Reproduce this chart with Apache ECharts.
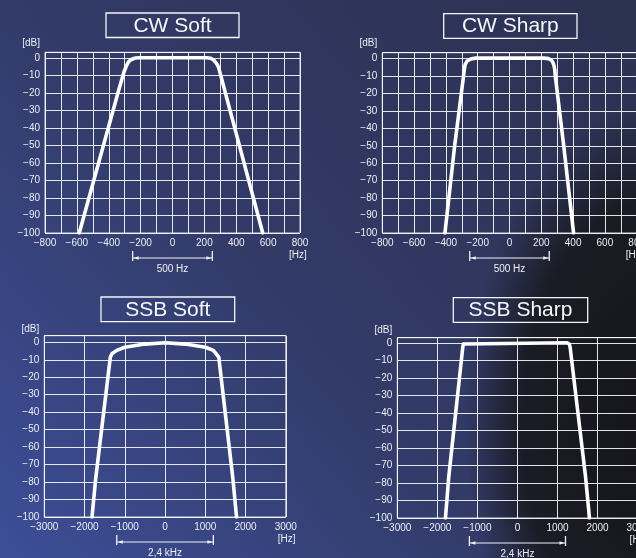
<!DOCTYPE html>
<html><head><meta charset="utf-8">
<script src="https://cdn.jsdelivr.net/npm/echarts@6/dist/echarts.min.js"></script>
<style>html,body{margin:0;padding:0;background:#2f3556}#c{width:636px;height:558px}</style>
</head><body><div id="c"></div>
<script>
// ---- data ----
const panelTitles = ['CW Soft', 'CW Sharp', 'SSB Soft', 'SSB Sharp'];
const levelTicks = [0, -10, -20, -30, -40, -50, -60, -70, -80, -90, -100];
const cwFreqTicks = [-800, -600, -400, -200, 0, 200, 400, 600, 800];
const ssbFreqTicks = [-3000, -2000, -1000, 0, 1000, 2000, 3000];

const cwSoftFreq  = [-585, -340, -305, -290, -275, -258, -235, -205, 214, 240, 258, 272, 283, 290, 566];
const cwSoftLevel = [-100, -19, -8, -4.5, -2, -0.7, 0.1, 0.3, 0.3, 0, -1, -2.5, -4, -5.5, -100];

const cwSharpFreq  = [-406, -345, -289, -284, -279, -268, -244, -213, 218, 245, 262, 272, 280, 285, 288, 341, 403];
const cwSharpLevel = [-100, -50, -10, -6, -3.4, -1.5, -0.2, 0.3, 0.3, 0, -0.8, -2, -4, -6.5, -10, -50, -100];

const ssbSoftFreq  = [-1815, -1723, -1360, -1320, -1200, -1000, -500, 0, 500, 1000, 1200, 1335, 1685, 1776];
const ssbSoftLevel = [-100, -78, -8.5, -6.5, -4.6, -2.8, -1, -0.2, -1, -2.8, -4.6, -8.5, -78, -100];

const ssbSharpFreq  = [-1798, -1713, -1365, -1350, -1320, 1240, 1295, 1315, 1698, 1798];
const ssbSharpLevel = [-100, -76, -2.5, -0.7, 0, 0, -0.7, -2.5, -76, -100];

const bandwidthEdges = [[-250, 250], [-250, 250], [-1200, 1200], [-1200, 1200]];
const bandwidthLabels = ['500 Hz', '500 Hz', '2,4 kHz', '2,4 kHz'];

// ---- layout / style ----
const FONT = '"Liberation Sans", Arial, sans-serif';
const TXT = '#eceef4';
const GRIDLINE = 'rgba(255,255,255,0.88)';
const grids = [
  {left: 45,    top: 52.3,  width: 255,   height: 180.7},
  {left: 382.3, top: 52.7,  width: 254.4, height: 180.3},
  {left: 44.3,  top: 335.7, width: 241.5, height: 181.3},
  {left: 397.3, top: 337.7, width: 240.3, height: 180.3}
];
const xCfg = [
  {min: -800, max: 800, interval: 100, ticks: cwFreqTicks, nameGap: -11},
  {min: -800, max: 800, interval: 100, ticks: cwFreqTicks, nameGap: -11},
  {min: -3000, max: 3000, interval: 1000, ticks: ssbFreqTicks, nameGap: -8},
  {min: -3000, max: 3000, interval: 1000, ticks: ssbFreqTicks, nameGap: -8}
];
const yMax = [3.4, 3.4, 3.8, 2.9];
const dbGap = [4, 4, 1, 2];
const curves = [
  [cwSoftFreq, cwSoftLevel], [cwSharpFreq, cwSharpLevel],
  [ssbSoftFreq, ssbSoftLevel], [ssbSharpFreq, ssbSharpLevel]
];
const titleBoxes = [
  {x: 106,   y: 13,    w: 133,   h: 24.5},
  {x: 443.7, y: 13.7,  w: 133.3, h: 24.6},
  {x: 101,   y: 297,   w: 133.7, h: 24.7},
  {x: 453.3, y: 297.7, w: 134.4, h: 24.6}
];

const minus = v => String(v).replace('-', '\u2212');

function bwRender(label) {
  return function (params, api) {
    const a = api.coord([api.value(0), api.value(2)]);
    const b = api.coord([api.value(1), api.value(2)]);
    const y = a[1];
    const col = '#f0f1f6';
    return {
      type: 'group',
      children: [
        {type: 'line', shape: {x1: a[0], y1: y + 18, x2: a[0], y2: y + 28}, style: {stroke: col, lineWidth: 1.3}},
        {type: 'line', shape: {x1: b[0], y1: y + 18, x2: b[0], y2: y + 28}, style: {stroke: col, lineWidth: 1.3}},
        {type: 'line', shape: {x1: a[0], y1: y + 25, x2: b[0], y2: y + 25}, style: {stroke: col, lineWidth: 1}},
        {type: 'polygon', shape: {points: [[a[0] + 1, y + 25], [a[0] + 6, y + 23.3], [a[0] + 6, y + 26.7]]}, style: {fill: col}},
        {type: 'polygon', shape: {points: [[b[0] - 1, y + 25], [b[0] - 6, y + 23.3], [b[0] - 6, y + 26.7]]}, style: {fill: col}},
        {type: 'text', style: {text: label, x: (a[0] + b[0]) / 2, y: y + 36, align: 'center', verticalAlign: 'middle', fill: col, font: '10px ' + FONT}}
      ]
    };
  };
}

const option = {
  animation: false,
  backgroundColor: 'transparent',
  grid: grids.map(g => Object.assign({show: true, borderColor: 'rgba(255,255,255,0.8)', borderWidth: 1, backgroundColor: 'transparent', containLabel: false, outerBoundsMode: 'none'}, g)),
  xAxis: xCfg.map((c, i) => ({
    type: 'value', gridIndex: i, min: c.min, max: c.max, interval: c.interval,
    name: '[Hz]', nameLocation: 'end', nameGap: c.nameGap,
    nameTextStyle: {color: TXT, fontSize: 10, fontFamily: FONT, align: 'left', verticalAlign: 'top', padding: [17, 0, 0, 0]},
    axisLine: {show: false, onZero: false}, axisTick: {show: false},
    axisLabel: {customValues: c.ticks, color: TXT, fontSize: 10, fontFamily: FONT, margin: 5, formatter: minus, hideOverlap: false},
    splitLine: {show: true, lineStyle: {color: GRIDLINE, width: 1}}
  })),
  yAxis: yMax.map((m, i) => ({
    type: 'value', gridIndex: i, min: -100, max: m, interval: 10,
    name: '[dB]', nameLocation: 'end', nameGap: dbGap[i],
    nameTextStyle: {color: TXT, fontSize: 10, fontFamily: FONT, align: 'right', padding: [0, 5, 0, 0]},
    axisLine: {show: false, onZero: false}, axisTick: {show: false},
    axisLabel: {customValues: levelTicks, color: TXT, fontSize: 10, fontFamily: FONT, margin: 5, formatter: minus},
    splitLine: {show: true, lineStyle: {color: GRIDLINE, width: 1}}
  })),
  series: [].concat(
    curves.map((c, i) => ({
      type: 'line', xAxisIndex: i, yAxisIndex: i, symbol: 'none', smooth: false, z: 5,
      lineStyle: {color: '#ffffff', width: 3.6, cap: 'round', join: 'round'},
      data: c[0].map((f, k) => [f, c[1][k]])
    })),
    bandwidthEdges.map((e, i) => ({
      type: 'custom', xAxisIndex: i, yAxisIndex: i, clip: false, silent: true, z: 6,
      encode: {x: [0, 1], y: 2},
      renderItem: bwRender(bandwidthLabels[i]),
      data: [[e[0], e[1], -100]]
    }))
  ),
  graphic: [].concat(
    [
      {type: 'rect', z: -20, silent: true, shape: {x: 0, y: 0, width: 636, height: 558},
        style: {fill: {type: 'linear', x: 1, y: 0, x2: 0, y2: 1, colorStops: [
          {offset: 0, color: '#2b3150'}, {offset: 0.55, color: '#323b68'}, {offset: 1, color: '#3d4e98'}]}}},
      {type: 'circle', z: -19, silent: true, shape: {cx: 0, cy: 0, r: 100}, x: 655, y: 425, scaleX: 1.9, scaleY: 3.2,
        style: {fill: {type: 'radial', x: 0.5, y: 0.5, r: 0.5, colorStops: [
          {offset: 0, color: 'rgba(20,20,24,0.97)'}, {offset: 0.7, color: 'rgba(24,24,30,0.9)'}, {offset: 1, color: 'rgba(26,27,34,0)'}]}}}
    ],
    titleBoxes.map((b, i) => ({
      type: 'group', z: 50,
      children: [
        {type: 'rect', shape: {x: b.x, y: b.y, width: b.w, height: b.h}, style: {fill: 'none', stroke: '#f4f5f8', lineWidth: 1.3}},
        {type: 'text', style: {text: panelTitles[i], x: b.x + b.w / 2, y: b.y + b.h / 2 + 0.5, align: 'center', verticalAlign: 'middle', fill: '#f6f7fa', font: '21px ' + FONT}}
      ]
    }))
  )
};

const chart = echarts.init(document.getElementById('c'), null, {renderer: 'canvas'});
chart.setOption(option);
</script>
</body></html>
